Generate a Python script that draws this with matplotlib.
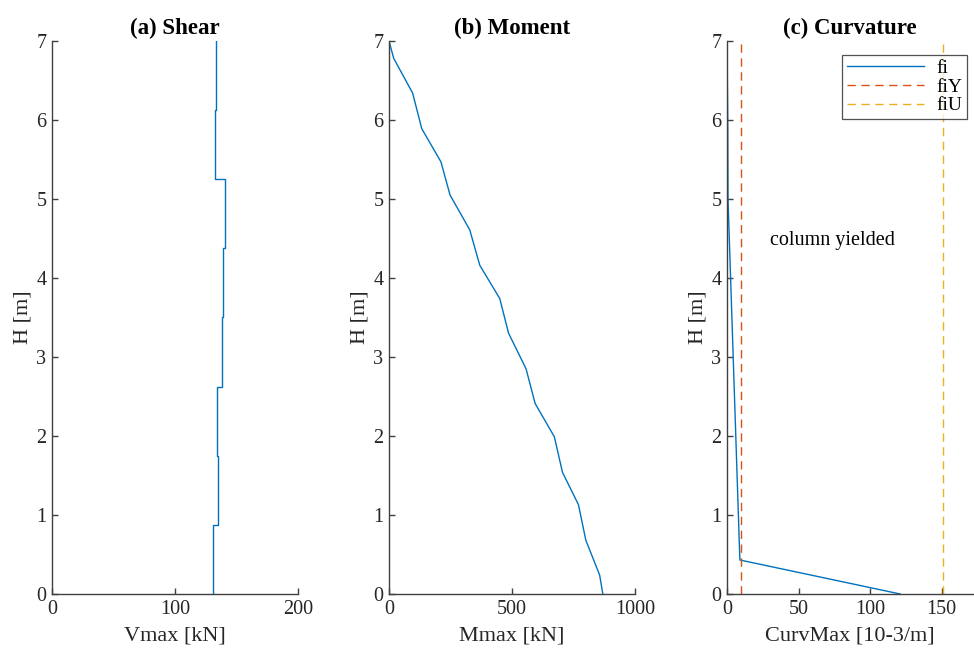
import numpy as np
import matplotlib
matplotlib.use('Agg')
import matplotlib.pyplot as plt

plt.rcParams['font.family'] = ['Liberation Serif', 'DejaVu Serif']

# shear: segment edges along the height and Vmax per segment
shear_edges = [0, 0.875, 1.75, 2.625, 3.5, 4.375, 5.25, 6.125, 7.0]
shear_vals = [130.9, 135.2, 134.4, 138.5, 139.3, 140.9, 132.8, 133.3]

# moment envelope
moment_h = [7.0, 6.78, 6.34, 5.89, 5.47, 5.05, 4.61, 4.16, 3.74, 3.30,
            2.85, 2.41, 1.99, 1.54, 1.13, 0.68, 0.24, 0.0]
moment_m = [0, 19, 96, 133, 211, 248, 328, 369, 450, 486,
            557, 594, 672, 705, 770, 800, 856, 869]

# curvature
curv_h = [0.0, 0.43, 5.0, 6.0, 7.0]
curv_fi = [121, 9, 0.7, 0.5, 0]
fi_yield = 10.0
fi_ult = 151.2

titles = ['(a) Shear', '(b) Moment', '(c) Curvature']
xlabels = ['Vmax [kN]', 'Mmax [kN]', 'CurvMax [10-3/m]']
xlims = [(0, 200), (0, 1000), (0, 172)]
xticks = [[0, 100, 200], [0, 500, 1000], [0, 50, 100, 150]]

c_blue = '#0072BD'
c_red = '#D95319'
c_yel = '#EDB120'
axcol = '#404040'

fig = plt.figure(figsize=(9.74, 6.5), dpi=100)
lefts = [0.0534, 0.3994, 0.7464]
axes = [fig.add_axes([l, 0.0862, 0.2526, 0.8508]) for l in lefts]

# (a) shear as a step profile
sx = np.repeat(shear_vals, 2)
sy = np.repeat(shear_edges, 2)[1:-1]
axes[0].plot(sx, sy, color=c_blue, lw=1.0)

# (b) moment
axes[1].plot(moment_m, moment_h, color=c_blue, lw=1.0)

# (c) curvature
ax = axes[2]
ax.plot(curv_fi, curv_h, color=c_blue, lw=1.0, label='fi')
ax.plot([fi_yield, fi_yield], [0, 7], color=c_red, lw=1.0, ls=(0, (6, 4)), label='fiY')
ax.plot([fi_ult, fi_ult], [0, 7], color=c_yel, lw=1.0, ls=(0, (6, 4)), label='fiU')
ax.text(30, 4.48, 'column yielded', fontsize=14.5, va='center', ha='left', color='black')
leg = ax.legend(loc='upper right', bbox_to_anchor=(0.975, 0.975), fontsize=14,
                handlelength=4.0, frameon=True, fancybox=False, borderpad=0.25,
                labelspacing=0.05, handletextpad=0.6, borderaxespad=0)
leg.get_frame().set_edgecolor('#262626')
leg.get_frame().set_linewidth(0.9)

for i, ax in enumerate(axes):
    ax.set_xlim(*xlims[i])
    ax.set_ylim(0, 7)
    ax.set_xticks(xticks[i])
    ax.set_yticks(range(8))
    ax.set_title(titles[i], fontsize=16.5, fontweight='bold', pad=5)
    ax.set_xlabel(xlabels[i], fontsize=16, labelpad=6, color='#262626')
    ax.set_ylabel('H [m]', fontsize=16, labelpad=3, color='#262626')
    ax.spines['top'].set_visible(False)
    ax.spines['right'].set_visible(False)
    for s in ('left', 'bottom'):
        ax.spines[s].set_color(axcol)
        ax.spines[s].set_linewidth(1.0)
    ax.tick_params(direction='in', length=4, width=1.0, color=axcol,
                   labelsize=14.5, labelcolor='#262626', pad=4)

fig.savefig('out.png', dpi=100)
